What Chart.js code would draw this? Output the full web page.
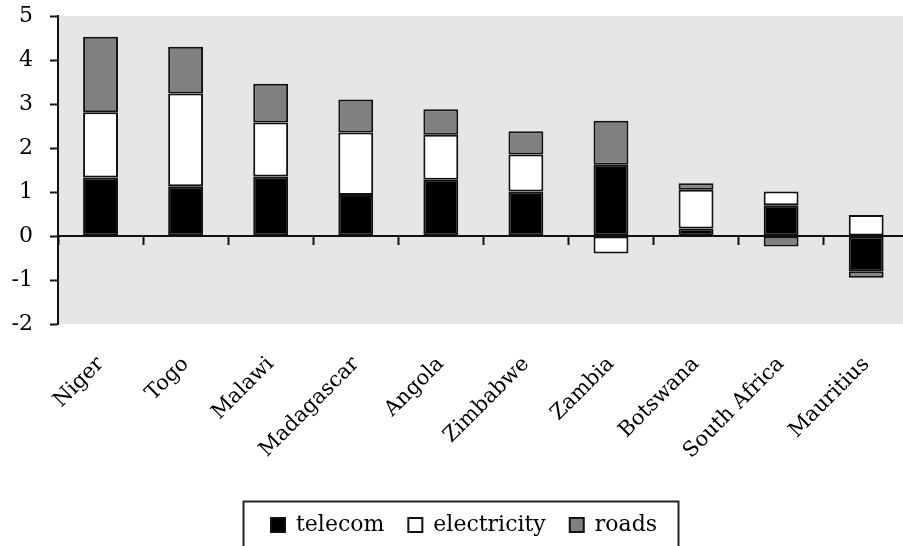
<!DOCTYPE html>
<html>
<head>
<meta charset="utf-8">
<script src="https://cdn.jsdelivr.net/npm/chart.js@4"></script>
<style>
  html, body { margin: 0; padding: 0; background: #fff; overflow: hidden; }
  #wrap { width: 903px; height: 546px; overflow: hidden; position: relative; }
  #inner { width: 912px; height: 546px; position: absolute; left: 0; top: 0; }
</style>
</head>
<body>
<div id="wrap"><div id="inner"><canvas id="c"></canvas></div></div>
<script>
const categories = ['Niger', 'Togo', 'Malawi', 'Madagascar', 'Angola', 'Zimbabwe', 'Zambia', 'Botswana', 'South Africa', 'Mauritius'];
const telecom     = [1.33, 1.13, 1.35, 0.93, 1.28, 1.01, 1.62, 0.17, 0.70, -0.80];
const electricity = [1.48, 2.11, 1.23, 1.42, 1.02, 0.84, -0.40, 0.88, 0.31, 0.48];
const roads       = [1.72, 1.06, 0.88, 0.75, 0.58, 0.53, 1.00, 0.15, -0.24, -0.15];
const yMin = -2, yMax = 5, yStep = 1;

const FONT = "'DejaVu Serif', 'Liberation Serif', serif";

const plotBg = {
  id: 'plotBg',
  beforeDraw(chart) {
    const a = chart.chartArea, ctx = chart.ctx;
    ctx.save();
    ctx.fillStyle = '#e6e6e6';
    ctx.fillRect(a.left, a.top, a.right - a.left, a.bottom - a.top);
    ctx.restore();
  }
};

const legendShift = {
  id: 'legendShift',
  afterLayout(chart) {
    const lg = chart.legend;
    if (lg) { lg.left += 8; lg.right += 8; }
  }
};

const legendFrame = {
  id: 'legendFrame',
  afterDraw(chart) {
    const lg = chart.legend;
    if (!lg || !lg.legendHitBoxes || !lg.legendHitBoxes.length) return;
    const hb = lg.legendHitBoxes;
    const first = hb[0], last = hb[hb.length - 1];
    const left = Math.round(first.left - 28) + 0.5;
    const right = Math.round(last.left + last.width + 21) + 0.5;
    const top = Math.round(first.top - 13) + 0.5;
    const ctx = chart.ctx;
    ctx.save();
    ctx.strokeStyle = '#222';
    ctx.lineWidth = 2;
    ctx.strokeRect(left, top, right - left, chart.height + 20 - top);
    ctx.restore();
  }
};

const common = {
  borderColor: '#111',
  borderWidth: 2,
  borderSkipped: false,
  barPercentage: 0.41,
  categoryPercentage: 1.0,
  xAxisID: 'x',
  yAxisID: 'y'
};

new Chart(document.getElementById('c'), {
  type: 'bar',
  data: {
    labels: categories,
    datasets: [
      Object.assign({ label: 'telecom', data: telecom, backgroundColor: '#000000' }, common),
      Object.assign({ label: 'electricity', data: electricity, backgroundColor: '#ffffff' }, common),
      Object.assign({ label: 'roads', data: roads, backgroundColor: '#808080' }, common)
    ]
  },
  options: {
    responsive: true,
    maintainAspectRatio: false,
    animation: false,
    devicePixelRatio: 1,
    layout: { padding: 0 },
    plugins: {
      title: { display: false },
      tooltip: { enabled: false },
      legend: {
        display: true,
        position: 'bottom',
        labels: {
          color: '#000',
          font: { family: FONT, size: 22 },
          boxWidth: 14,
          boxHeight: 14,
          padding: 24
        }
      }
    },
    scales: {
      x: {
        type: 'category',
        stacked: true,
        offset: true,
        position: { y: 0 },
        grid: {
          offset: true,
          drawOnChartArea: false,
          drawTicks: true,
          tickLength: 8,
          tickWidth: 2,
          tickColor: '#111'
        },
        border: { display: true, color: '#111', width: 2 },
        ticks: { display: false },
        afterFit(scale) { scale.height = 0; }
      },
      x2: {
        type: 'category',
        labels: categories,
        position: 'bottom',
        offset: true,
        grid: { display: false, drawTicks: false },
        border: { display: false },
        ticks: {
          autoSkip: false,
          minRotation: 45,
          maxRotation: 45,
          color: '#000',
          font: { family: FONT, size: 21 },
          padding: 28
        },
        afterFit(scale) { scale.height = 166; }
      },
      y: {
        stacked: true,
        min: yMin,
        max: yMax,
        position: 'left',
        grid: {
          drawOnChartArea: false,
          drawTicks: true,
          tickLength: 8,
          tickWidth: 2,
          tickColor: '#111'
        },
        border: { display: true, color: '#111', width: 2 },
        ticks: {
          stepSize: yStep,
          color: '#000',
          font: { family: FONT, size: 22 },
          padding: 17
        },
        afterFit(scale) {
          scale.width = 58;
          scale.paddingTop = 16;
          scale.paddingBottom = 0;
        }
      }
    }
  },
  plugins: [plotBg, legendShift, legendFrame]
});
</script>
</body>
</html>
